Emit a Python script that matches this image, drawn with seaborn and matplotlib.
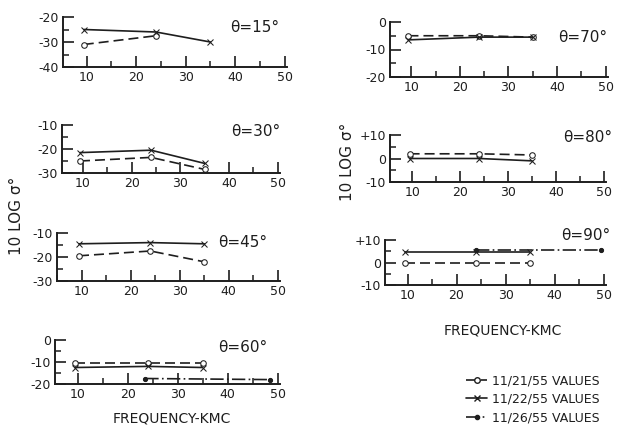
import numpy as np
import pandas as pd
import matplotlib
matplotlib.use("Agg")
import matplotlib.pyplot as plt
from matplotlib.lines import Line2D
from matplotlib.ticker import MultipleLocator
import seaborn as sns

# frequencies (KMC) at which the measurements were taken
freq = [9.4, 24, 35]
freq_1126_60 = [23.5, 48.5]
freq_1126_90 = [24, 49.5]
freq_1121_15 = [9.4, 24]

# 10 log sigma0 values, one list per date and angle
v15_1121 = [-31, -27.5]
v15_1122 = [-25, -26, -30]
v30_1121 = [-25, -23.5, -28.5]
v30_1122 = [-21.5, -20.5, -26]
v45_1121 = [-19.5, -17.5, -22]
v45_1122 = [-14.5, -14, -14.5]
v60_1121 = [-10.5, -10.5, -10.5]
v60_1122 = [-12.5, -12, -12.5]
v60_1126 = [-17.5, -18]
v70_1121 = [-5, -5, -5.5]
v70_1122 = [-6.5, -5.5, -5.5]
v80_1121 = [2, 2, 1.5]
v80_1122 = [0, 0, -1]
v90_1121 = [0, 0, 0]
v90_1122 = [4.5, 4.5, 4.5]
v90_1126 = [5.5, 5.5]

legend_labels = ["11/21/55 VALUES", "11/22/55 VALUES", "11/26/55 VALUES"]

ink = "#1e1e1e"
W, H = 617, 441

sns.set_style("ticks")
plt.rcParams["font.family"] = ["DejaVu Sans"]
plt.rcParams["axes.unicode_minus"] = False

styles = {
    "1121": dict(linestyle=(0, (6, 3)), marker="o", markerfacecolor="white", markersize=4),
    "1122": dict(linestyle="-", marker="x", markersize=4),
    "1126": dict(linestyle=(0, (8, 2, 1, 2)), marker="o", markerfacecolor=ink, markersize=3),
}

# (label, [left, top, right, bottom] in pixels, xmin, ylim, yticklabels, series, title pos)
panels = [
    ("θ=15°", [63, 17, 287, 67], 5.2, (-40, -20), ["-40", "-30", "-20"],
     [("1121", freq_1121_15, v15_1121), ("1122", freq, v15_1122)], (255, 27)),
    ("θ=30°", [62, 125, 280, 173], 5.7, (-30, -10), ["-30", "-20", "-10"],
     [("1121", freq, v30_1121), ("1122", freq, v30_1122)], (256, 132)),
    ("θ=45°", [57, 233, 280, 281], 4.9, (-30, -10), ["-30", "-20", "-10"],
     [("1121", freq, v45_1121), ("1122", freq, v45_1122)], (243, 243)),
    ("θ=60°", [55, 340, 280, 384], 5.4, (-20, 0), ["-20", "-10", "0"],
     [("1121", freq, v60_1121), ("1122", freq, v60_1122), ("1126", freq_1126_60, v60_1126)], (243, 348)),
    ("θ=70°", [390, 22, 608, 77], 5.6, (-20, 0), ["-20", "-10", "0"],
     [("1121", freq, v70_1121), ("1122", freq, v70_1122)], (583, 37)),
    ("θ=80°", [390, 135, 606, 182], 5.3, (-10, 10), ["-10", "0", "+10"],
     [("1121", freq, v80_1121), ("1122", freq, v80_1122)], (588, 137)),
    ("θ=90°", [385, 240, 606, 285], 5.4, (-10, 10), ["-10", "0", "+10"],
     [("1121", freq, v90_1121), ("1122", freq, v90_1122), ("1126", freq_1126_90, v90_1126)], (586, 236)),
]

fig = plt.figure(figsize=(W / 100, H / 100), dpi=100)

for title, (l, t, r, b), xmin, ylim, ylabels, series, tpos in panels:
    ax = fig.add_axes([l / W, 1 - b / H, (r - l) / W, (b - t) / H])
    for key, fx, vals in series:
        sns.lineplot(x=fx, y=vals, ax=ax, color=ink, linewidth=1.2,
                     markeredgecolor=ink, estimator=None, legend=False, **styles[key])
    ax.set_xlim(xmin, 50.5)
    ax.set_ylim(*ylim)
    ax.set_xticks([10, 20, 30, 40, 50])
    ax.xaxis.set_minor_locator(MultipleLocator(5))
    ax.set_yticks(np.linspace(ylim[0], ylim[1], 3))
    ax.set_yticklabels(ylabels)
    ax.yaxis.set_minor_locator(MultipleLocator(5))
    ax.tick_params(which="both", bottom=True, left=True, top=False, right=False)
    ax.tick_params(which="major", direction="in", length=8, width=1.2, colors=ink,
                   labelsize=9, pad=3)
    ax.tick_params(which="minor", direction="in", length=4, width=1.1, colors=ink)
    sns.despine(ax=ax)
    for s in ("left", "bottom"):
        ax.spines[s].set_color(ink)
        ax.spines[s].set_linewidth(1.4)
    ax.set_xlabel("")
    ax.set_ylabel("")
    ax.patch.set_alpha(0)
    fig.text(tpos[0] / W, 1 - tpos[1] / H, title, ha="center", va="center",
             fontsize=11, color=ink)

fig.text(172 / W, 1 - 418 / H, "FREQUENCY-KMC", ha="center", va="center", fontsize=10, color=ink)
fig.text(503 / W, 1 - 330 / H, "FREQUENCY-KMC", ha="center", va="center", fontsize=10, color=ink)
fig.text(17 / W, 1 - 216 / H, "10 LOG σ°", rotation=90, ha="center", va="center",
         fontsize=11, color=ink)
fig.text(347 / W, 1 - 162 / H, "10 LOG σ°", rotation=90, ha="center", va="center",
         fontsize=11, color=ink)

handles = [Line2D([], [], color=ink, linewidth=1.2, markeredgecolor=ink, **styles[k])
           for k in ("1121", "1122", "1126")]
fig.legend(handles, legend_labels, loc="upper left", bbox_to_anchor=(466 / W, 1 - 374 / H),
           frameon=False, fontsize=9, handlelength=1.7, handletextpad=0.4,
           labelspacing=0.45, borderpad=0, borderaxespad=0, labelcolor=ink)

fig.savefig("out.png", dpi=100, facecolor="white")
